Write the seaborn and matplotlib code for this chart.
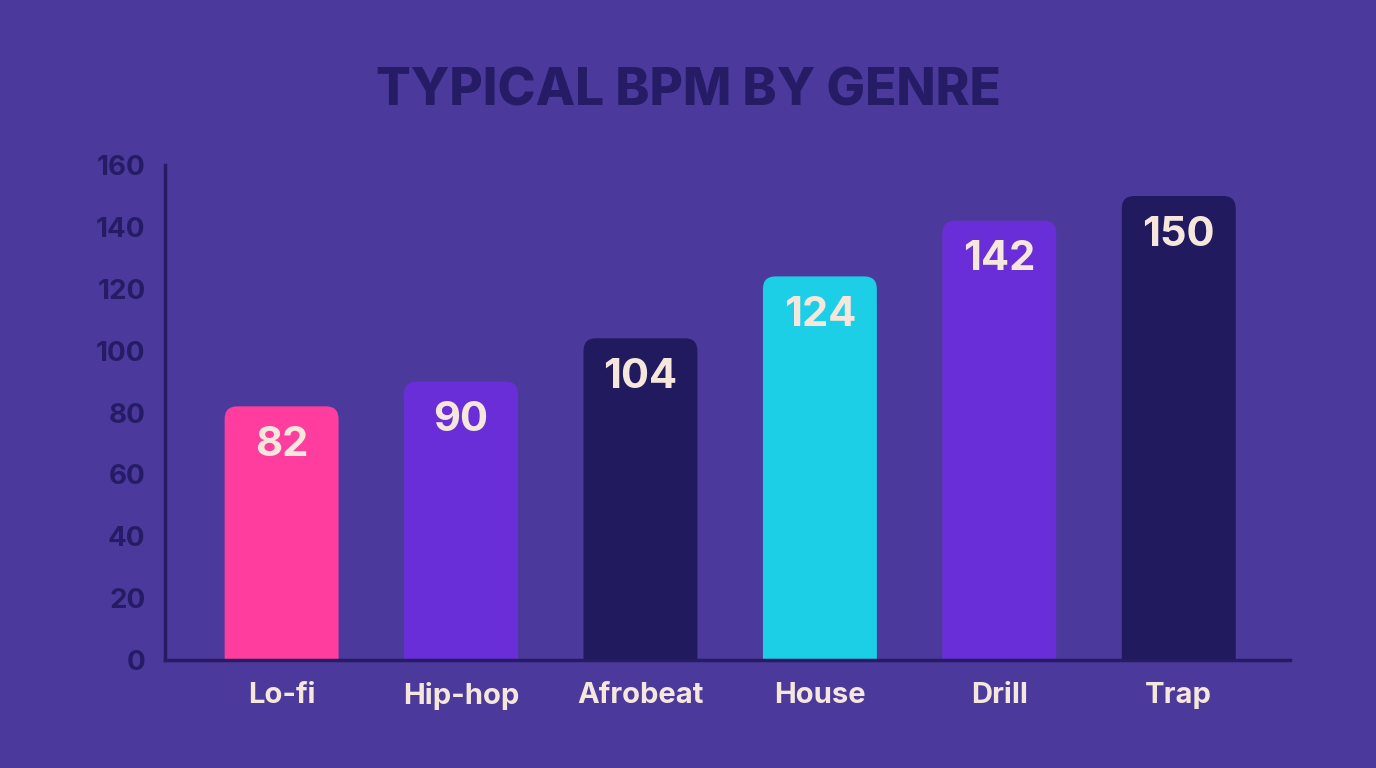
import matplotlib
matplotlib.use("Agg")
import matplotlib.pyplot as plt
from matplotlib.patches import FancyBboxPatch
import seaborn as sns
import pandas as pd

# data
genres = ["Lo-fi", "Hip-hop", "Afrobeat", "House", "Drill", "Trap"]
bpm = [82, 90, 104, 124, 142, 150]
bar_colors = ["#FF3D9E", "#6A2ED8", "#221A5E", "#1CCFE6", "#6A2ED8", "#221A5E"]

bg = "#4B3A9B"
navy = "#261C66"
cream = "#F6E7DD"

sns.set_style("white")
plt.rcParams["font.family"] = ["Inter", "DejaVu Sans"]

df = pd.DataFrame({"genre": genres, "bpm": bpm})

fig = plt.figure(figsize=(13.76, 7.68), dpi=100, facecolor=bg)
ax = fig.add_axes([0.1199, 0.1406, 0.8176, 0.6445])
ax.set_facecolor(bg)

sns.barplot(data=df, x="genre", y="bpm", hue="genre", palette=bar_colors,
            saturation=1, legend=False, width=0.635, ax=ax)

# swap the square bars for ones with rounded tops
for p in list(ax.patches):
    x, w, h = p.get_x(), p.get_width(), p.get_height()
    fc = p.get_facecolor()
    p.remove()
    rb = FancyBboxPatch((x, -10), w, h + 10,
                        boxstyle="round,pad=0,rounding_size=0.07",
                        mutation_aspect=58, facecolor=fc, edgecolor="none",
                        clip_on=True, zorder=2)
    ax.add_patch(rb)

for i, v in enumerate(bpm):
    ax.text(i, v - 12.5, str(v), ha="center", va="center", color=cream,
            fontsize=30, fontweight="bold", zorder=3)

ax.set_xlim(-0.65, 5.62)
ax.set_ylim(0, 160)
ax.set_yticks(range(0, 161, 20))
ax.set_xlabel("")
ax.set_ylabel("")

ax.tick_params(axis="y", length=0, pad=14, labelsize=20, labelcolor=navy)
ax.tick_params(axis="x", length=0, pad=16, labelsize=21, labelcolor=cream)
for lbl in ax.get_xticklabels() + ax.get_yticklabels():
    lbl.set_fontweight("bold")

sns.despine(ax=ax)
for side in ["left", "bottom"]:
    ax.spines[side].set_color(navy)
    ax.spines[side].set_linewidth(2.5)

fig.text(0.5, 0.88, "TYPICAL BPM BY GENRE", ha="center", va="center",
         color=navy, fontsize=37, fontweight="heavy")

fig.savefig("out.png", dpi=100, facecolor=bg)
